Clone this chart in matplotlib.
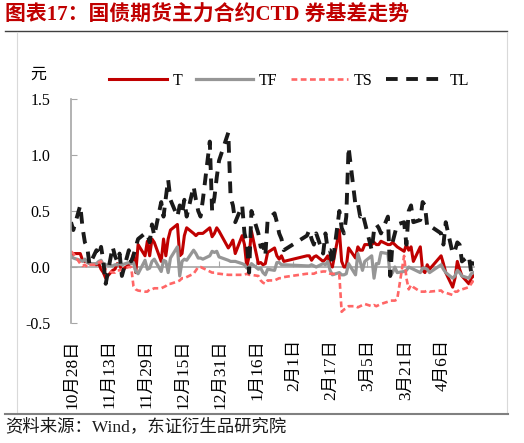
import matplotlib
matplotlib.use("Agg")
import matplotlib.pyplot as plt
from matplotlib.lines import Line2D
from matplotlib.transforms import ScaledTranslation
import pandas as pd

plt.rcParams['font.family'] = ['Liberation Serif', 'Noto Sans CJK SC', 'DejaVu Sans']
plt.rcParams['axes.unicode_minus'] = False

# trading days (2021-10-28 .. 2022-04-20), exchange holidays removed
holidays = ['2022-01-03', '2022-01-31', '2022-02-01', '2022-02-02', '2022-02-03',
            '2022-02-04', '2022-04-04', '2022-04-05']
dates = pd.bdate_range('2021-10-28', '2022-04-20')
dates = dates[~dates.isin(pd.to_datetime(holidays))]

T = [0.09, 0.12,
     0.12, 0.06, 0.05, 0.05, 0.03, 0.02, 0.03, -0.02, -0.05, -0.10, -0.03, -0.02, 0.03, 0.02, -0.03,
     0.02, 0.04, 0.12, -0.05, 0.20, 0.10, 0.23,
     0.10, 0.25, 0.22, 0.05, 0.25, 0.10, 0.25, 0.33, 0.38, 0.10, 0.12, 0.28, 0.35, 0.30, 0.28, 0.30,
     0.30, 0.30, 0.35, 0.27, 0.30, 0.35, 0.32,
     0.17, 0.20, 0.24, 0.12, 0.28, 0.20, 0.00, 0.10, 0.32, 0.03, 0.04, 0.02, 0.03, 0.13, 0.17, 0.10,
     0.07, 0.10, 0.05,
     0.10, 0.10, 0.06, 0.09, 0.10, 0.05, 0.07, 0.10, 0.02, 0.00, 0.33, 0.05, 0.00, 0.00, 0.17, 0.08,
     0.18, 0.15, 0.15, 0.20, 0.20, 0.22, 0.20, 0.20, 0.23, 0.20, 0.20, 0.22, 0.20, 0.18, 0.14, 0.20,
     0.15, 0.18, 0.05, 0.18, -0.03, -0.05, 0.02,
     -0.02, 0.10, 0.03, -0.05, -0.18, -0.10, 0.05, -0.02, -0.08, -0.15, -0.10, -0.08]

TF = [0.10, 0.08,
      0.06, 0.05, 0.07, 0.04, 0.03, 0.03, 0.05, 0.06, 0.02, 0.02, 0.01, 0.02, 0.02, 0.03, 0.02,
      0.04, 0.03, 0.04, -0.04, -0.06, 0.06, -0.02,
      -0.01, 0.05, 0.07, -0.04, 0.06, 0.05, -0.05, 0.08, 0.18, -0.08, 0.05, 0.07, 0.06, 0.15, 0.12,
      0.08, 0.08, 0.07, 0.10, 0.14, 0.13, 0.14, 0.09,
      0.06, 0.05, 0.05, 0.05, 0.03, 0.02, -0.01, 0.00, 0.03, -0.02, -0.01, -0.05, -0.07, -0.02,
      -0.03, 0.04, 0.04, 0.02, 0.02,
      0.01, 0.01, 0.02, 0.01, 0.00, 0.03, 0.02, 0.05, -0.03, -0.07, -0.05, -0.07, -0.07, -0.06,
      0.03, -0.07,
      0.12, 0.05, -0.03, 0.05, 0.10, -0.10, 0.03, 0.03, 0.13, 0.12, -0.08, -0.05, 0.00, -0.05,
      -0.04, -0.03, 0.00, -0.01, -0.02, -0.05, -0.01, -0.01, -0.02,
      -0.05, 0.02, -0.02, -0.05, -0.10, -0.08, -0.03, -0.05, -0.08, -0.10, -0.06, -0.05]

TS = [0.14, 0.12,
      0.03, 0.01, 0.02, 0.00, 0.02, 0.02, 0.04, 0.05, -0.02, -0.02, -0.05, -0.05, -0.03, -0.03,
      -0.02, 0.00, 0.00, -0.17, -0.20, -0.21, -0.22, -0.22,
      -0.20, -0.20, -0.19, -0.19, -0.18, -0.17, -0.15, -0.15, -0.13, -0.12, -0.10, -0.10, -0.09,
      -0.06, -0.03, 0.00, 0.00, -0.01, -0.04, -0.05, -0.05, -0.06, -0.06,
      -0.07, -0.07, -0.07, -0.07, -0.07, -0.07, -0.06, -0.07, -0.07, -0.08, -0.12, -0.14, -0.15,
      -0.12, -0.12, -0.11, -0.10, -0.10, -0.09,
      -0.06, -0.06, -0.06, -0.06, -0.05, -0.04, -0.04, -0.05, -0.06, -0.06, -0.07, -0.40, -0.38,
      -0.37, -0.35, -0.35,
      -0.36, -0.35, -0.34, -0.33, -0.35, -0.34, -0.35, -0.34, -0.33, -0.31, -0.30, -0.30, -0.30,
      -0.29, 0.10, -0.10, -0.20, -0.16, -0.18, -0.22, -0.22, -0.22, -0.21,
      -0.22, -0.21, -0.23, -0.23, -0.25, -0.22, -0.22, -0.20, -0.20, -0.18, -0.15, -0.12]

TL = [0.40, 0.33,
      0.55, 0.35, 0.22, 0.18, 0.02, 0.15, 0.10, 0.18, 0.05, -0.15, 0.18, 0.10, 0.05, 0.12, -0.08,
      0.15, 0.05, 0.10, 0.18, 0.25, 0.30, 0.30,
      0.22, 0.38, 0.28, 0.58, 0.45, 0.62, 0.78, 0.60, 0.45, 0.55, 0.48, 0.60, 0.45, 0.72, 0.60,
      0.50, 0.45, 0.60, 1.12, 0.50, 0.62, 0.80, 0.95,
      1.20, 0.62, 0.55, 0.40, 0.55, 0.30, 0.22, -0.05, 0.50, 0.30, 0.18, 0.20, 0.10, 0.42, 0.48,
      0.40, 0.30, 0.25, 0.15,
      0.28, 0.33, 0.25, 0.20, 0.30, 0.12, 0.30, 0.15, 0.15, 0.02, 0.50, 0.35, 0.30, 0.45, 1.07,
      0.55,
      0.57, 0.45, 0.48, 0.40, 0.15, 0.33, 0.38, 0.35, 0.30, 0.45, -0.08, 0.22, 0.30, 0.38, 0.40,
      0.20, 0.50, 0.55, 0.40, 0.42, 0.58, 0.55, 0.36,
      0.37, 0.30, 0.20, 0.40, 0.12, 0.15, 0.22, 0.20, 0.05, 0.10, -0.05, 0.05]

series = [("T", T, '#C00000', '-', 2.2),
          ("TF", TF, '#969696', '-', 2.3),
          ("TS", TS, '#FF6666', (0, (2.2, 1.3)), 1.9),
          ("TL", TL, '#1A1A1A', (0, (3.0, 2.2)), 2.8)]

yticks = [-0.5, 0.0, 0.5, 1.0, 1.5]
tick_dates = pd.date_range('2021-10-28', periods=11, freq='16D')
tick_labels = [f"{d.month}月{d.day}日" for d in tick_dates]

W, H = 524, 443
fig = plt.figure(figsize=(W / 100, H / 100), dpi=100)
ax = fig.add_axes([71 / W, 1 - 323 / H, (473.5 - 71) / W, (323 - 99) / H])

handles = []
for name, vals, col, ls, lw in series:
    ln, = ax.plot(dates, vals, color=col, linestyle=ls, linewidth=lw, label=name,
                  solid_joinstyle='round')
    handles.append(ln)

ax.set_xlim(dates[0], dates[-1])
ax.set_ylim(-0.5, 1.5)
ax.set_yticks(yticks)
ax.set_yticklabels([f"{v:.1f}" for v in yticks])
ax.set_xticks(tick_dates)
ax.set_xticklabels(tick_labels)

for s in ['top', 'right']:
    ax.spines[s].set_visible(False)
ax.spines['bottom'].set_position(('data', 0))
ax.spines['bottom'].set_color('#A6A6A6')
ax.spines['bottom'].set_linewidth(1.2)
ax.spines['left'].set_color('#A6A6A6')
ax.spines['left'].set_linewidth(1.2)
ax.spines['bottom'].set_zorder(0.5)

ax.tick_params(axis='x', direction='in', length=4, color='#A6A6A6', pad=52,
               labelsize=12.5, labelrotation=90)
ax.tick_params(axis='y', direction='in', length=4, color='#A6A6A6', pad=15, labelsize=11.5)
for lab in ax.get_xticklabels():
    lab.set_va('top')
    lab.set_transform(lab.get_transform() + ScaledTranslation(1.5 / 100, 0, fig.dpi_scale_trans))

fig.legend(handles, [s[0] for s in series], loc='center', bbox_to_anchor=(289 / W, 1 - 81 / H),
           ncol=4, frameon=False, handlelength=3.6, handletextpad=0.35, columnspacing=0.85,
           fontsize=11.5)

fig.text(38 / W, 1 - 75 / H, '元', fontsize=11.5, ha='center', va='center')
fig.text(5 / W, 1 - 16 / H, '图表17：国债期货主力合约CTD 券基差走势', fontsize=15,
         fontweight='bold', color='#C00000', ha='left', va='center')
fig.text(5 / W, 1 - 427 / H, '资料来源：Wind，东证衍生品研究院', fontsize=12.5, ha='left',
         va='center', color='#1a1a1a')

# decorative frame lines
fig.add_artist(Line2D([5 / W, 507 / W], [1 - 31 / H] * 2, transform=fig.transFigure,
                      color='#404040', lw=1.0))
fig.add_artist(Line2D([17 / W, 17 / W], [1 - 32 / H, 1 - 414 / H], transform=fig.transFigure,
                      color='#D9D9D9', lw=0.8))
fig.add_artist(Line2D([507 / W, 507 / W], [1 - 32 / H, 1 - 414 / H], transform=fig.transFigure,
                      color='#D9D9D9', lw=0.8))
fig.add_artist(Line2D([5 / W, 508 / W], [1 - 414 / H] * 2, transform=fig.transFigure,
                      color='#808080', lw=1.5))

fig.savefig('out.png', dpi=100)
